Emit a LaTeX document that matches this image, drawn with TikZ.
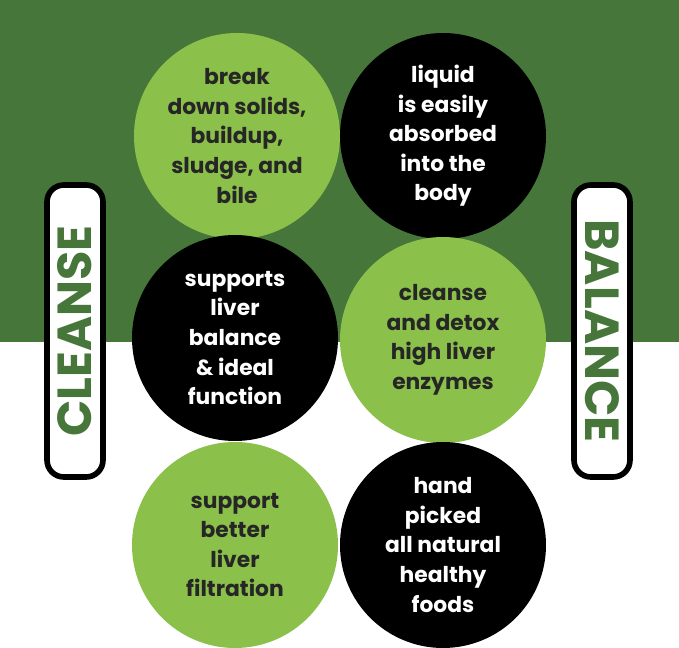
\documentclass[tikz,border=0pt]{standalone}
\usepackage{fontspec}
\setmainfont{Poppins}
\usetikzlibrary{positioning}
\definecolor{leafgreen}{HTML}{47763A}
\definecolor{limegreen}{HTML}{8BC04A}
\begin{document}
\begin{tikzpicture}[
    x=0.025cm, y=-0.025cm,
    bubble/.style={circle, minimum size=206*0.025cm, inner sep=0pt,
                   align=center, font=\fontsize{15.5}{21}\selectfont\bfseries},
    litebubble/.style={bubble, fill=limegreen, text=black!85},
    darkbubble/.style={bubble, fill=black, text=white},
    pill/.style={draw=black, line width=4pt, fill=white, rounded corners=12pt,
                 minimum width=56*0.025cm, minimum height=292*0.025cm, inner sep=0pt},
    pilltext/.style={text=leafgreen, font=\fontsize{34}{34}\selectfont\bfseries},
]
    % Background
    \fill[white] (0,0) rectangle (679,648);
    \fill[leafgreen] (0,0) rectangle (679,342);
    \useasboundingbox (0,0) rectangle (679,648);

    % Bubbles
    \node[litebubble] (solids) at (237,136) {break\\down solids,\\buildup,\\sludge, and\\bile};
    \node[darkbubble] (liquid) at (443,136) {liquid\\is easily\\absorbed\\into the\\body};
    \node[darkbubble] (liver) at (235,338) {supports\\liver\\balance\\\& ideal\\function};
    \node[litebubble] (detox) at (443,340) {cleanse\\and detox\\high liver\\enzymes};
    \node[litebubble] (filter) at (235,545) {support\\better\\liver\\filtration};
    \node[darkbubble] (foods) at (443,545) {hand\\picked\\all natural\\healthy\\foods};

    % Side labels
    \node[pill] (cleanse) at (75,331) {};
    \node[pilltext, rotate=90] at (cleanse) {CLEANSE};
    \node[pill] (balance) at (602,331) {};
    \node[pilltext, rotate=-90] at (balance) {BALANCE};
\end{tikzpicture}
\end{document}
